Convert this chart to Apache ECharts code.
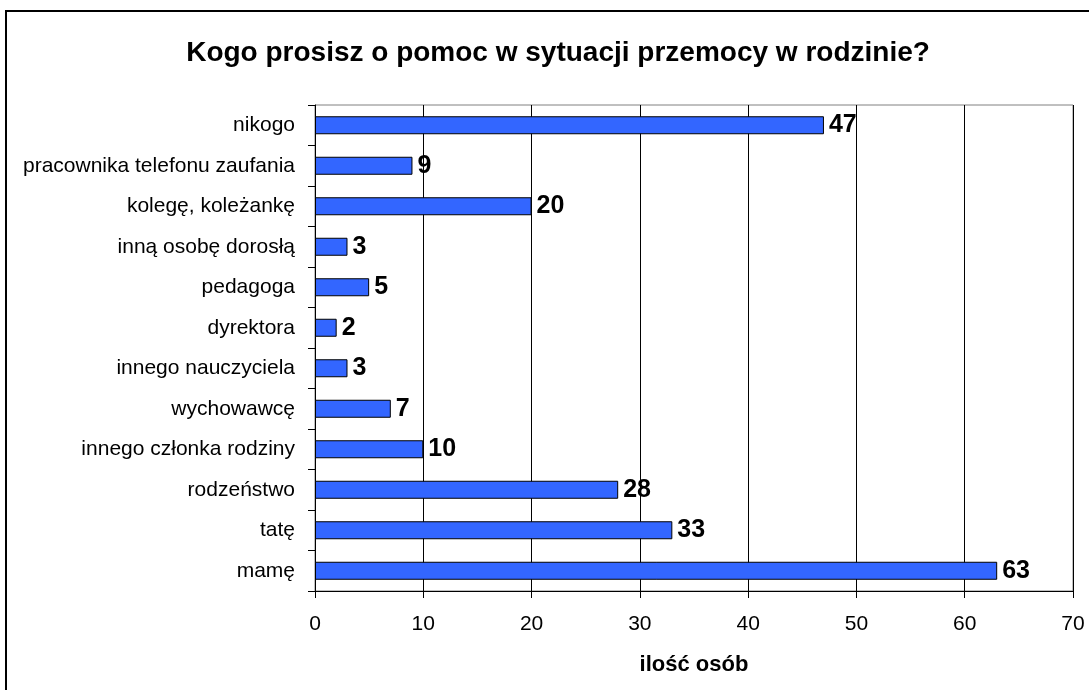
<!DOCTYPE html>
<html><head><meta charset="utf-8">
<script src="https://cdn.jsdelivr.net/npm/echarts@6/dist/echarts.min.js"></script>
<style>html,body{margin:0;padding:0;background:#fff}#c{width:1089px;height:690px}</style>
</head><body><div id="c"></div>
<script>
const categories = ['nikogo','pracownika telefonu zaufania','kolegę, koleżankę','inną osobę dorosłą','pedagoga','dyrektora','innego nauczyciela','wychowawcę','innego członka rodziny','rodzeństwo','tatę','mamę'];
const values = [47,9,20,3,5,2,3,7,10,28,33,63];
const xTicks = {min:0, max:70, interval:10};
const F = '"Liberation Sans", Arial, sans-serif';
const chart = echarts.init(document.getElementById('c'), null, {renderer:'canvas'});
chart.setOption({
  animation:false,
  backgroundColor:'#fff',
  title:{text:'Kogo prosisz o pomoc w sytuacji przemocy w rodzinie?', left:553, top:34, textAlign:'center',
    textStyle:{fontFamily:F, fontSize:28, fontWeight:'bold', color:'#000'}},
  graphic:[{type:'rect', shape:{x:6,y:11,width:1200,height:800}, style:{fill:'none', stroke:'#000', lineWidth:2}, silent:true}],
  grid:{left:315, top:105, right:16, bottom:99, show:true, borderColor:'#808080', borderWidth:1, containLabel:false},
  xAxis:{type:'value', min:xTicks.min, max:xTicks.max, interval:xTicks.interval,
    name:'ilość osób', nameLocation:'middle', nameGap:63,
    nameTextStyle:{fontFamily:F, fontSize:22, fontWeight:'bold', color:'#000'},
    axisLine:{show:true, lineStyle:{color:'#000', width:1}},
    axisTick:{show:true, length:7, lineStyle:{color:'#000'}},
    axisLabel:{fontFamily:F, fontSize:21, color:'#000', margin:23},
    splitLine:{show:true, lineStyle:{color:'#000', width:1}}},
  yAxis:{type:'category', data:categories, inverse:true,
    axisLine:{show:true, lineStyle:{color:'#000', width:1}},
    axisTick:{show:true, length:7, alignWithLabel:false, lineStyle:{color:'#000'}},
    axisLabel:{fontFamily:F, fontSize:21, color:'#000', margin:20}},
  series:[{type:'bar', data:values, barWidth:18,
    itemStyle:{color:'#3366FF', borderColor:'#000', borderWidth:1},
    label:{show:true, position:'right', distance:5, fontFamily:F, fontSize:25, fontWeight:'bold', color:'#000'}}]
});
</script></body></html>
